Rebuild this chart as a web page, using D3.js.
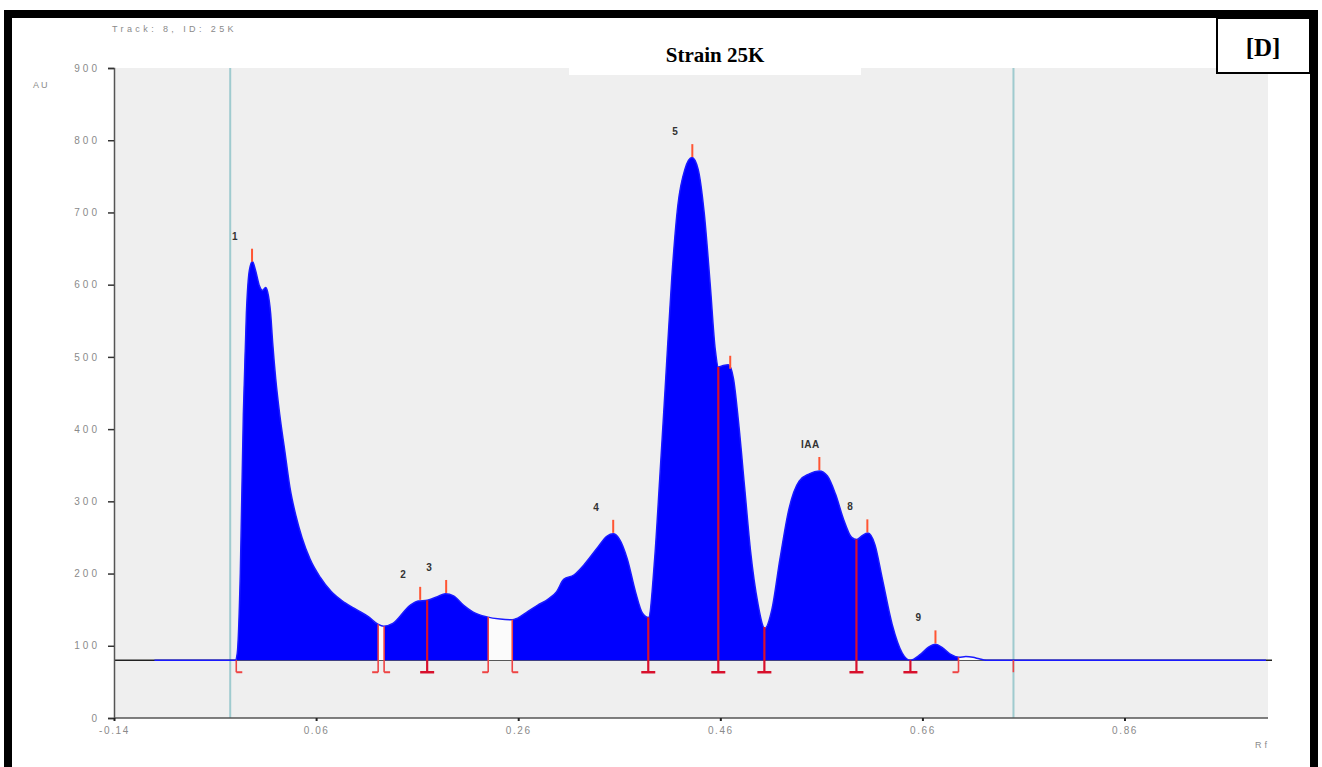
<!DOCTYPE html>
<html>
<head>
<meta charset="utf-8">
<script src="https://cdn.jsdelivr.net/npm/d3@7"></script>
<style>
  html, body { margin: 0; padding: 0; background: #ffffff; }
  svg { display: block; }
</style>
</head>
<body>
<svg id="chart" width="1322" height="767"></svg>
<script>
// Densitometric scan of TLC track 8 (strain 25K): Rf vs absorbance units
const traceRf = [-0.100, -0.020, -0.018, -0.015, -0.012, -0.009, -0.006, -0.003, 0.000, 0.004, 0.007, 0.010,
  0.012, 0.015, 0.017, 0.020, 0.024, 0.029, 0.034, 0.040, 0.046, 0.054, 0.064, 0.075, 0.088, 0.100, 0.112,
  0.121, 0.127, 0.136, 0.153, 0.161, 0.170, 0.180, 0.188, 0.196, 0.206, 0.215, 0.229, 0.242, 0.254, 0.259,
  0.269, 0.279, 0.290, 0.298, 0.305, 0.315, 0.325, 0.338, 0.348, 0.354, 0.360, 0.368, 0.376, 0.383, 0.389,
  0.395, 0.400, 0.406, 0.412, 0.418, 0.425, 0.432, 0.438, 0.444, 0.450, 0.455, 0.458, 0.463, 0.468, 0.473,
  0.478, 0.484, 0.490, 0.497, 0.504, 0.511, 0.519, 0.528, 0.538, 0.548, 0.558, 0.566, 0.574, 0.582, 0.590,
  0.595, 0.600, 0.606, 0.613, 0.620, 0.630, 0.640, 0.648, 0.658, 0.666, 0.673, 0.680, 0.688, 0.696, 0.703,
  0.710, 0.716, 0.723, 1.000];
const traceAU = [80, 80, 90, 200, 420, 560, 620, 632, 620, 598, 592, 596,
  590, 560, 520, 470, 420, 370, 320, 280, 250, 220, 195, 175, 160, 150, 140,
  130, 127, 131, 156, 162, 163, 168, 172, 169, 156, 147, 140, 137, 136, 138,
  147, 156, 165, 175, 192, 198, 212, 235, 252, 255, 248, 220, 175, 145, 139,
  220, 330, 470, 610, 710, 760, 776, 760, 700, 600, 510, 486, 488, 489, 470,
  410, 320, 230, 160, 124, 150, 220, 290, 328, 338, 342, 335, 310, 275, 250,
  247, 252, 256, 240, 195, 130, 90, 80, 88, 98, 102, 97, 88, 84, 85,
  84, 82, 80, 80];

// Integration windows (filled) and the separators drawn between them
const bandStart = [-0.019, 0.1273, 0.2541];
const bandEnd = [0.1214, 0.2303, 0.6957];
const sepRf = [-0.019, 0.1214, 0.1273, 0.1699, 0.2303, 0.2541, 0.3887, 0.458, 0.5036, 0.5947, 0.6481, 0.6957, 0.750];
const sepFoot = ["[", "]", "[", "T", "]", "[", "T", "T", "T", "T", "T", "]", "|"];

// Detected peak maxima
const peakRf = [-0.0034, 0.163, 0.1887, 0.354, 0.4323, 0.4698, 0.558, 0.6055, 0.6729];
const peakLabel = ["1", "2", "3", "4", "5", "", "IAA", "8", "9"];

// Scan window markers
const windowRf = [-0.025, 0.7501];

const baselineAU = 80;
const xTickValues = [-0.14, 0.06, 0.26, 0.46, 0.66, 0.86];
const xTickLabels = ["-0.14", "0.06", "0.26", "0.46", "0.66", "0.86"];
const yTickValues = [0, 100, 200, 300, 400, 500, 600, 700, 800, 900];

const title = "Strain 25K";
const panelTag = "[D]";
const trackCaption = "Track: 8, ID: 25K";

const svg = d3.select("#chart");
const x = d3.scaleLinear().domain([-0.14, 1.0]).range([114, 1266]);
const y = d3.scaleLinear().domain([0, 900]).range([718, 68]);

const pts = traceRf.map((r, i) => [r, traceAU[i]]);
const valueAt = r => {
  for (let i = 1; i < pts.length; i++) {
    if (r <= pts[i][0]) {
      const [r0, v0] = pts[i - 1], [r1, v1] = pts[i];
      return v0 + (v1 - v0) * (r - r0) / (r1 - r0);
    }
  }
  return pts[pts.length - 1][1];
};
const slice = (a, b) => [[a, valueAt(a)], ...pts.filter(p => p[0] > a && p[0] < b), [b, valueAt(b)]];

// plot background
svg.append("rect").attr("x", x(-0.14)).attr("y", y(900)).attr("width", 1268 - x(-0.14)).attr("height", y(0) - y(900))
  .attr("fill", "#efefef");

// scan window markers
svg.selectAll("line.win").data(windowRf).join("line").attr("class", "win")
  .attr("x1", d => x(d)).attr("x2", d => x(d)).attr("y1", y(900)).attr("y2", y(0))
  .attr("stroke", "#9fcbcf").attr("stroke-width", 2);

// baseline
svg.append("line").attr("x1", x(-0.14)).attr("x2", 1272).attr("y1", y(baselineAU)).attr("y2", y(baselineAU))
  .attr("stroke", "#222").attr("stroke-width", 1.5);

const area = d3.area().x(d => x(d[0])).y0(y(baselineAU)).y1(d => y(d[1])).curve(d3.curveMonotoneX);
const line = d3.line().x(d => x(d[0])).y(d => y(d[1])).curve(d3.curveMonotoneX);

// unintegrated area under the trace
svg.append("path").datum(slice(-0.019, 0.723)).attr("d", area).attr("fill", "#fbfbfb");

// integrated bands
bandStart.forEach((a, i) => {
  svg.append("path").datum(slice(a, bandEnd[i])).attr("d", area).attr("fill", "#0000ff");
});

// trace line
svg.append("path").datum(pts).attr("d", line).attr("fill", "none").attr("stroke", "#1a1aff").attr("stroke-width", 1.5);

// separators
const sepG = svg.append("g");
sepRf.forEach((r, i) => {
  const px = x(r), foot = sepFoot[i], yb = y(baselineAU) + 12;
  const top = (foot === "|" || i === 0) ? y(baselineAU) : y(valueAt(r));
  const col = foot === "T" ? "#d8102c" : "#ee4444";
  sepG.append("line").attr("x1", px).attr("x2", px).attr("y1", top).attr("y2", yb)
    .attr("stroke", col).attr("stroke-width", foot === "T" ? 2.2 : 1.6);
  if (foot === "T") {
    sepG.append("line").attr("x1", px - 7).attr("x2", px + 7).attr("y1", yb).attr("y2", yb)
      .attr("stroke", col).attr("stroke-width", 2.5);
  } else if (foot === "[") {
    sepG.append("line").attr("x1", px).attr("x2", px + 6).attr("y1", yb).attr("y2", yb)
      .attr("stroke", col).attr("stroke-width", 2);
  } else if (foot === "]") {
    sepG.append("line").attr("x1", px - 6).attr("x2", px).attr("y1", yb).attr("y2", yb)
      .attr("stroke", col).attr("stroke-width", 2);
  }
});

// peak ticks and labels
peakRf.forEach((r, i) => {
  const px = x(r), py = y(valueAt(r));
  svg.append("line").attr("x1", px).attr("x2", px).attr("y1", py - 14).attr("y2", py - 1)
    .attr("stroke", "#ff5533").attr("stroke-width", 2);
  if (peakLabel[i]) {
    svg.append("text").attr("x", px + (peakLabel[i].length > 1 ? -9 : -17)).attr("y", py - 23)
      .attr("text-anchor", "middle").attr("font-family", "Liberation Sans, Arial, sans-serif")
      .attr("font-size", 10).attr("font-weight", "bold").attr("letter-spacing", 0.5).attr("fill", "#333")
      .text(peakLabel[i]);
  }
});

// axes
const axisFont = (ls) => g => g.selectAll("text").attr("font-family", "Liberation Sans, Arial, sans-serif")
  .attr("font-size", 10).attr("letter-spacing", ls).attr("fill", "#8a8a8a");
const yAxis = svg.append("g").attr("transform", `translate(${x(-0.14)},0)`)
  .call(d3.axisLeft(y).tickValues(yTickValues).tickSize(6).tickPadding(8));
yAxis.select(".domain").attr("stroke", "#555").attr("stroke-width", 1.5);
yAxis.selectAll(".tick line").attr("stroke", "#333").attr("stroke-width", 1.5);
yAxis.call(axisFont(3));

svg.append("line").attr("x1", x(-0.14)).attr("x2", 1268).attr("y1", y(0)).attr("y2", y(0))
  .attr("stroke", "#555").attr("stroke-width", 1.5);
const xAxis = svg.append("g").attr("transform", `translate(0,${y(0)})`)
  .call(d3.axisBottom(x).tickValues(xTickValues).tickFormat((d, i) => xTickLabels[i]).tickSize(3).tickPadding(6));
xAxis.select(".domain").remove();
xAxis.selectAll(".tick line").attr("stroke", "#222").attr("stroke-width", 2);
xAxis.call(axisFont(1.6));

const smallText = (tx, ty, s, ls) => svg.append("text").attr("x", tx).attr("y", ty)
  .attr("font-family", "Liberation Sans, Arial, sans-serif")
  .attr("font-size", 9).attr("letter-spacing", ls).attr("fill", "#8a8a8a").text(s);
smallText(33, 88, "AU", 2);
smallText(1255, 748, "Rf", 3);
smallText(112, 32, trackCaption, 3.4);

// title box
svg.append("rect").attr("x", 569).attr("y", 18).attr("width", 292).attr("height", 57).attr("fill", "#fff");
svg.append("text").attr("x", 715).attr("y", 62).attr("text-anchor", "middle")
  .attr("font-family", "Liberation Serif, Times New Roman, serif").attr("font-weight", "bold").attr("font-size", 21)
  .attr("fill", "#000").text(title);

// panel tag
svg.append("rect").attr("x", 1217).attr("y", 18).attr("width", 93).attr("height", 55)
  .attr("fill", "#fff").attr("stroke", "#000").attr("stroke-width", 2);
svg.append("text").attr("x", 1263).attr("y", 56).attr("text-anchor", "middle")
  .attr("font-family", "Liberation Serif, Times New Roman, serif").attr("font-weight", "bold").attr("font-size", 25)
  .attr("fill", "#000").text(panelTag);

// outer frame
svg.append("rect").attr("x", 8).attr("y", 14).attr("width", 1306).attr("height", 800)
  .attr("fill", "none").attr("stroke", "#000").attr("stroke-width", 8);
</script>
</body>
</html>
